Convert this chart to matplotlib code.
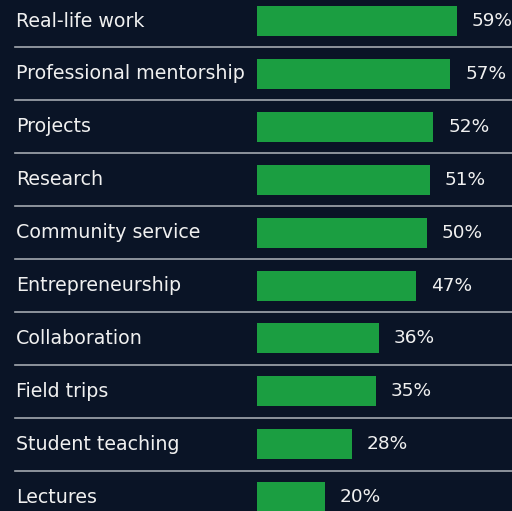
"""Horizontal bar chart of learning experiences."""

import matplotlib

matplotlib.use("Agg")
import matplotlib.pyplot as plt

categories = [
    "Real-life work",
    "Professional mentorship",
    "Projects",
    "Research",
    "Community service",
    "Entrepreneurship",
    "Collaboration",
    "Field trips",
    "Student teaching",
    "Lectures",
]
values = [59, 57, 52, 51, 50, 47, 36, 35, 28, 20]

BG = "#0a1426"
GREEN = "#1b9e41"
LINE = "#a3a8b0"
TEXT = "#f0f0f0"

W, H = 512, 511
px_per_unit = 3.39
bar_left_px = 257
row_pitch = 52.9
first_center = 21

fig = plt.figure(figsize=(W / 100, H / 100), dpi=100, facecolor=BG)
ax = fig.add_axes([0, 0, 1, 1])
ax.set_facecolor(BG)

ax.set_xlim(-bar_left_px / px_per_unit, (W - bar_left_px) / px_per_unit)
top = -first_center / row_pitch
bottom = (H - first_center) / row_pitch
ax.set_ylim(bottom, top)

ypos = list(range(len(categories)))
ax.barh(ypos, values, height=30 / row_pitch, color=GREEN, left=0)

label_x = -(bar_left_px - 16) / px_per_unit
for y, cat, v in zip(ypos, categories, values):
    ax.text(label_x, y, cat, color=TEXT, fontsize=13.7,
            va="center", ha="left", family="DejaVu Sans")
    ax.text(v + 15 / px_per_unit, y, f"{v}%", color=TEXT,
            fontsize=13.3, va="center", ha="left", family="DejaVu Sans")
    if y < len(categories) - 1:
        ax.axhline(y + 0.5, xmin=15 / W, xmax=1, color=LINE, lw=1.2)

ax.axis("off")
fig.savefig("out.png", dpi=100, facecolor=BG)
plt.close(fig)
